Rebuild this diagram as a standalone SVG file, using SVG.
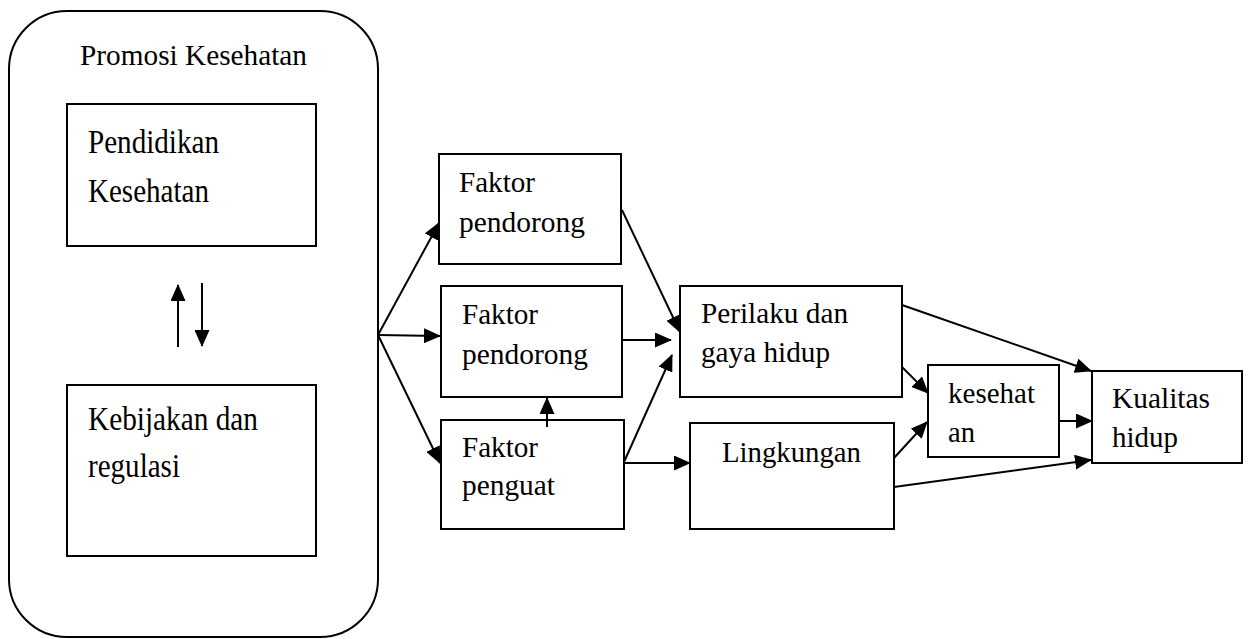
<svg xmlns="http://www.w3.org/2000/svg" width="1248" height="639" viewBox="0 0 1248 639">
<style>
.box{fill:#fff;stroke:#000;stroke-width:2}
.outer{fill:#fff;stroke:#000;stroke-width:2}
text{font-family:"Liberation Serif","Times New Roman",Times,"DejaVu Serif",serif;fill:#000}
.t{font-size:29px}
.tb{font-size:34px}
.c{fill:none;stroke:#000;stroke-width:2;marker-end:url(#ah)}
</style>
<defs>
<marker id="ah" markerUnits="userSpaceOnUse" markerWidth="17" markerHeight="15" refX="16" refY="7.5" orient="auto">
<path d="M0,0 L17,7.5 L0,15 Z" fill="#000"/>
</marker>
</defs>
<rect width="1248" height="639" fill="#fff"/>
<g id="promosi">
<rect class="outer" x="9" y="11" width="369" height="626" rx="58" ry="58"/>
<text class="t" x="80" y="65" textLength="227" lengthAdjust="spacingAndGlyphs">Promosi Kesehatan</text>
</g>
<g id="pendidikan">
<rect class="box" x="67" y="104" width="249" height="142"/>
<text class="tb" x="88" y="153" textLength="131" lengthAdjust="spacingAndGlyphs">Pendidikan</text>
<text class="tb" x="88" y="202" textLength="121" lengthAdjust="spacingAndGlyphs">Kesehatan</text>
</g>
<g id="kebijakan">
<rect class="box" x="67" y="385" width="249" height="171"/>
<text class="tb" x="88" y="430" textLength="170" lengthAdjust="spacingAndGlyphs">Kebijakan dan</text>
<text class="tb" x="88" y="477" textLength="92" lengthAdjust="spacingAndGlyphs">regulasi</text>
</g>
<g id="faktor1">
<rect class="box" x="439" y="154" width="182" height="110"/>
<text class="t" x="459" y="192" textLength="76" lengthAdjust="spacingAndGlyphs">Faktor</text>
<text class="t" x="459" y="232" textLength="126" lengthAdjust="spacingAndGlyphs">pendorong</text>
</g>
<g id="faktor2">
<rect class="box" x="441" y="286" width="181" height="111"/>
<text class="t" x="462" y="324" textLength="76" lengthAdjust="spacingAndGlyphs">Faktor</text>
<text class="t" x="462" y="364" textLength="126" lengthAdjust="spacingAndGlyphs">pendorong</text>
</g>
<g id="faktor3">
<rect class="box" x="441" y="420" width="183" height="109"/>
<text class="t" x="462" y="457" textLength="76" lengthAdjust="spacingAndGlyphs">Faktor</text>
<text class="t" x="462" y="495" textLength="93" lengthAdjust="spacingAndGlyphs">penguat</text>
</g>
<g id="perilaku">
<rect class="box" x="680" y="286" width="222" height="111"/>
<text class="t" x="701" y="323" textLength="147" lengthAdjust="spacingAndGlyphs">Perilaku dan</text>
<text class="t" x="701" y="362" textLength="129" lengthAdjust="spacingAndGlyphs">gaya hidup</text>
</g>
<g id="lingkungan">
<rect class="box" x="690" y="423" width="204" height="106"/>
<text class="t" x="722" y="462" textLength="139" lengthAdjust="spacingAndGlyphs">Lingkungan</text>
</g>
<g id="kesehatan">
<rect class="box" x="928" y="365" width="131" height="92"/>
<text class="t" x="948" y="403" textLength="87" lengthAdjust="spacingAndGlyphs">kesehat</text>
<text class="t" x="948" y="442" textLength="27" lengthAdjust="spacingAndGlyphs">an</text>
</g>
<g id="kualitas">
<rect class="box" x="1092" y="371" width="150" height="92"/>
<text class="t" x="1112" y="408" textLength="98" lengthAdjust="spacingAndGlyphs">Kualitas</text>
<text class="t" x="1112" y="447" textLength="66" lengthAdjust="spacingAndGlyphs">hidup</text>
</g>
<g id="connectors">
<line class="c" x1="178" y1="347" x2="178" y2="285"/>
<line class="c" x1="202" y1="283" x2="202" y2="346"/>
<line class="c" x1="378" y1="335" x2="439" y2="223"/>
<line class="c" x1="378" y1="335" x2="440" y2="336"/>
<line class="c" x1="378" y1="335" x2="440" y2="463"/>
<line class="c" x1="547" y1="427" x2="547" y2="398"/>
<line class="c" x1="622" y1="210" x2="680" y2="332"/>
<line class="c" x1="622" y1="340" x2="671" y2="340"/>
<line class="c" x1="624" y1="462" x2="672" y2="355"/>
<line class="c" x1="624" y1="463" x2="690" y2="463"/>
<line class="c" x1="902" y1="305" x2="1091" y2="371"/>
<line class="c" x1="902" y1="367" x2="928" y2="393"/>
<line class="c" x1="1059" y1="421" x2="1092" y2="421"/>
<line class="c" x1="894" y1="458" x2="927" y2="422"/>
<line class="c" x1="894" y1="487" x2="1091" y2="460"/>
</g>
</svg>
